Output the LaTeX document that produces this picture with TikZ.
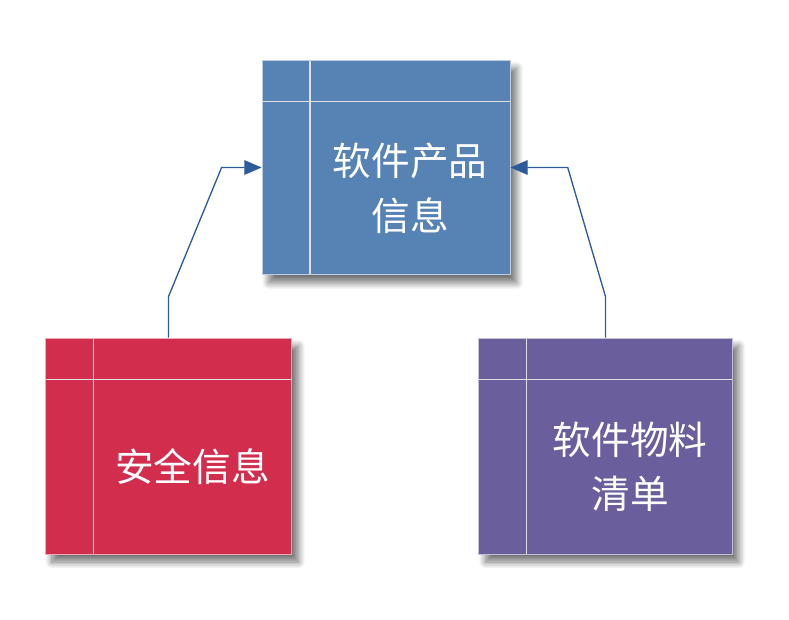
\documentclass[tikz,border=0pt]{standalone}
\usepackage{fontspec}
\newfontfamily\cjk{Noto Sans CJK SC}
\usetikzlibrary{arrows.meta,shadows.blur}
\definecolor{prodblue}{RGB}{86,130,180}
\definecolor{safered}{RGB}{211,45,78}
\definecolor{bompurple}{RGB}{106,94,156}
\definecolor{linkblue}{RGB}{46,92,154}
\begin{document}
\begin{tikzpicture}[x=0.75pt, y=-0.75pt, >={Triangle[length=13pt,width=11pt]},
    card/.style={rectangle, inner sep=0pt, line width=0.6pt,
        blur shadow={shadow xshift=5pt, shadow yshift=-6pt, shadow blur radius=5pt, shadow blur steps=15, shadow opacity=55},
        path picture={
            \draw[white!88!black, line width=0.8pt]
                ([xshift=36pt]path picture bounding box.north west) -- ([xshift=36pt]path picture bounding box.south west);
            \draw[white!88!black, line width=0.8pt]
                ([yshift=-31pt]path picture bounding box.north west) -- ([yshift=-31pt]path picture bounding box.north east);
        }},
    cardtext/.style={text=white, align=center, font=\cjk\fontsize{29}{41}\selectfont},
    link/.style={draw=linkblue, line width=1pt, ->}]
    \useasboundingbox (0,0) rectangle (789,620);
    % 三个方框
    \node[card, fill=prodblue, draw=prodblue!40!white, minimum width=186pt, minimum height=161pt] (prod) at (386,167.5) {};
    \node[card, fill=safered, draw=safered!40!white, minimum width=185pt, minimum height=162pt] (safe) at (168.5,446) {};
    \node[card, fill=bompurple, draw=bompurple!40!white, minimum width=190pt, minimum height=162pt] (bom) at (605.5,446) {};
    % 文字
    \node[cardtext] (prodtext) at ([shift={(18pt,-15.5pt)}]prod.center) {软件产品\\信息};
    \node[cardtext] (safetext) at ([shift={(18pt,-15.5pt)}]safe.center) {安全信息};
    \node[cardtext] (bomtext) at ([shift={(18.5pt,-15.5pt)}]bom.center) {软件物料\\清单};
    % 连线
    \draw[link] (safe.north) -- ++(0,-41) -- ([xshift=-30pt]prod.west) -- (prod.west);
    \draw[link] (bom.north) -- ++(0,-41) -- ([xshift=43pt]prod.east) -- (prod.east);
\end{tikzpicture}
\end{document}
